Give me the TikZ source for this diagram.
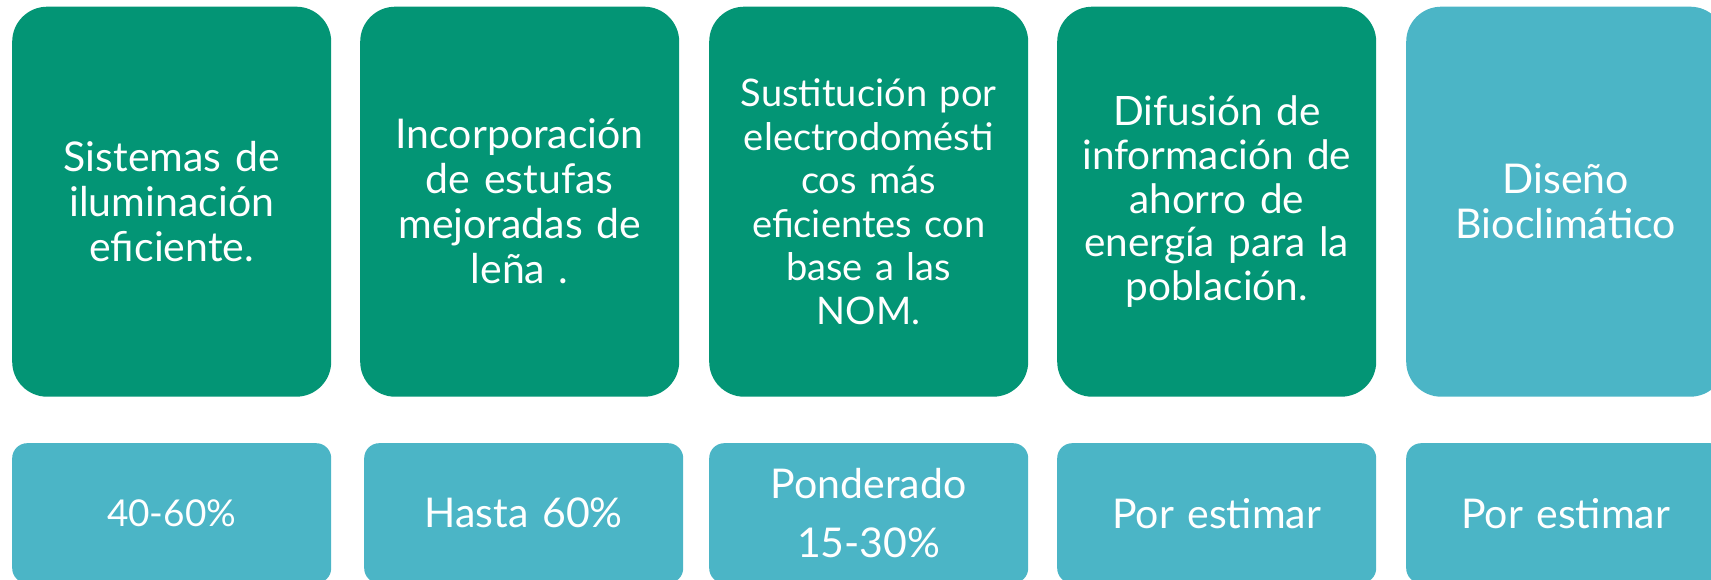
\documentclass[tikz,border=0pt]{standalone}
\usepackage{fontspec}
\setmainfont{Lato}
\definecolor{grnbox}{HTML}{039575}
\definecolor{tealbox}{HTML}{4BB5C6}
\begin{document}
\begin{tikzpicture}[x=1pt,y=-1pt,
  topbox/.style={anchor=north west, rounded corners=35pt, minimum width=319pt,
    minimum height=390pt, inner sep=0pt, text=white, align=center, text width=310pt,
    font=\fontsize{41}{45}\selectfont},
  smalltop/.style={topbox, font=\fontsize{38}{43.6}\selectfont},
  midtop/.style={topbox, font=\fontsize{40.5}{43.6}\selectfont},
  botbox/.style={anchor=north west, rounded corners=15pt, minimum width=319pt,
    minimum height=140pt, inner sep=0pt, text=white, align=center, text width=305pt,
    fill=tealbox, font=\fontsize{41}{59}\selectfont},
  botsmall/.style={botbox, font=\fontsize{37}{59}\selectfont}]
\useasboundingbox (0,0) rectangle (1711,580);
\clip (0,0) rectangle (1711,580);
\node[topbox, fill=grnbox] (t1) at (12,6.5) {Sistemas de\\iluminación\\eficiente.};
\node[topbox, fill=grnbox] (t2) at (360,6.5) {Incorporación\\de estufas\\mejoradas de\\leña .};
\node[smalltop, fill=grnbox] (t3) at (709,6.5) {Sustitución por\\electrodomésti\\cos más\\eficientes con\\base a las\\NOM.};
\node[midtop, fill=grnbox] (t4) at (1057,6.5) {Difusión de\\información de\\ahorro de\\energía para la\\población.};
\node[topbox, fill=tealbox] (t5) at (1406,6.5) {Diseño\\Bioclimático};
\node[botsmall] (b1) at (12,443) {40-60\%};
\node[botbox] (b2) at (364,443) {Hasta 60\%};
\node[botbox] (b3) at (709,443) {Ponderado\\15-30\%};
\node[botbox] (b4) at (1057,443) {Por estimar};
\node[botbox] (b5) at (1406,443) {Por estimar};
\end{tikzpicture}
\end{document}
